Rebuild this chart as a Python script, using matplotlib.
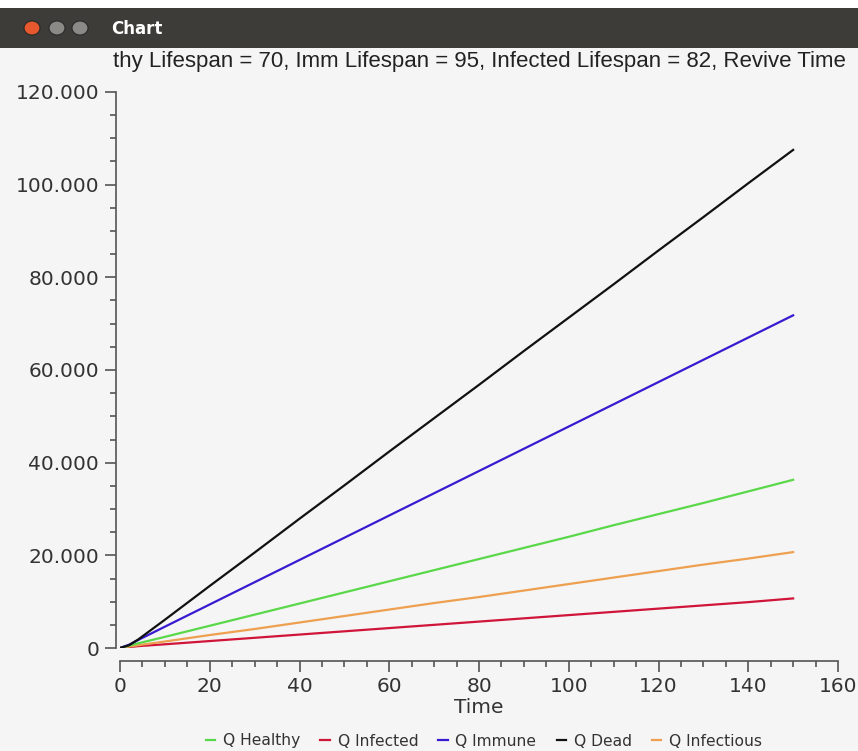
import matplotlib
matplotlib.use("Agg")
import matplotlib.pyplot as plt
import matplotlib.ticker as ticker
from matplotlib.patches import Rectangle, Circle

# time steps and series values
time = [0, 2, 4, 10, 20, 30, 40, 50, 60, 70, 80, 90, 100, 110, 120, 130, 140, 150]
q_healthy = [0, 500, 1000, 2400, 4800, 7200, 9600, 12000, 14400, 16800, 19200,
             21600, 24000, 26500, 28900, 31300, 33800, 36300]
q_infected = [0, 200, 400, 800, 1500, 2200, 2900, 3600, 4300, 5000, 5700,
              6400, 7100, 7800, 8500, 9200, 9900, 10700]
q_immune = [0, 700, 1700, 4600, 9400, 14200, 19000, 23800, 28600, 33400, 38200,
            43000, 47800, 52600, 57400, 62200, 67000, 71800]
q_dead = [0, 600, 1800, 6100, 13400, 20600, 27900, 35100, 42400, 49600, 56800,
          64100, 71300, 78500, 85800, 93000, 100300, 107500]
q_infectious = [0, 300, 600, 1400, 2800, 4100, 5500, 6900, 8300, 9700, 11000,
                12400, 13800, 15200, 16600, 18000, 19300, 20700]

labels = ["Q Healthy", "Q Infected", "Q Immune", "Q Dead", "Q Infectious"]
series = [q_healthy, q_infected, q_immune, q_dead, q_infectious]
colors = ["#5ad84a", "#d0153a", "#3a1ad0", "#111111", "#eea050"]
draw_order = [1, 4, 0, 2, 3]

bg = "#f5f5f5"
txt = "#333333"

fig = plt.figure(figsize=(8.58, 7.51), dpi=100)
fig.patch.set_facecolor(bg)

# window title bar
fig.add_artist(Rectangle((0, 1 - 48/751), 1, 40/751, transform=fig.transFigure,
                         facecolor="#3d3c38", edgecolor="none"))
fig.add_artist(Rectangle((0, 1 - 8/751), 1, 8/751, transform=fig.transFigure,
                         facecolor="white", edgecolor="none"))
for cx, col in [(32, "#e8582e"), (57, "#8a8985"), (80, "#8a8985")]:
    fig.add_artist(Circle((cx/858, 1 - 28/751), 8/858, transform=fig.transFigure,
                          facecolor=col, edgecolor="#2a2a2a", lw=0.8))
fig.text(111/858, 1 - 29/751, "Chart", color="white", fontsize=12,
         fontweight="bold", va="center", ha="left")

# chart title (clipped on the left in the original window)
fig.text(113/858, 1 - 62/751,
         "thy Lifespan = 70, Imm Lifespan = 95, Infected Lifespan = 82, Revive Time",
         color="#222222", fontsize=16, family="Liberation Sans",
         va="center", ha="left")

ax = fig.add_axes([120/858, 103/751, 718/858, 556/751])
ax.set_facecolor(bg)

for i in draw_order:
    ax.plot(time, series[i], color=colors[i], linewidth=1.6, label=labels[i])

ax.set_xlim(0, 160)
ax.set_ylim(0, 120000)

ax.xaxis.set_major_locator(ticker.MultipleLocator(20))
ax.xaxis.set_minor_locator(ticker.MultipleLocator(5))
ax.yaxis.set_major_locator(ticker.MultipleLocator(20000))
ax.yaxis.set_minor_locator(ticker.MultipleLocator(5000))
ax.yaxis.set_major_formatter(ticker.FuncFormatter(
    lambda v, p: "0" if v == 0 else "{:,.0f}".format(v).replace(",", ".")))

ax.spines['top'].set_visible(False)
ax.spines['right'].set_visible(False)
ax.spines['left'].set_position(('outward', 3))
ax.spines['bottom'].set_position(('outward', 9))
for s in ['left', 'bottom']:
    ax.spines[s].set_color("#555555")
    ax.spines[s].set_linewidth(1.2)

ax.tick_params(which='major', length=8, width=1.2, color="#555555",
               labelsize=14.5, labelcolor=txt, pad=4)
ax.tick_params(which='minor', length=4, width=1.2, color="#555555")

ax.set_xlabel("Time", fontsize=14.5, color=txt, labelpad=1)

handles, labs = ax.get_legend_handles_labels()
order = [labs.index(l) for l in labels]
fig.legend([handles[k] for k in order], labels, loc="center",
           bbox_to_anchor=(484/858, 1 - 741/751), ncol=5, frameon=False,
           fontsize=11.2, handlelength=0.6, handletextpad=0.5, columnspacing=1.3,
           labelcolor=txt)

fig.savefig("out.png", dpi=100, facecolor=fig.get_facecolor())
